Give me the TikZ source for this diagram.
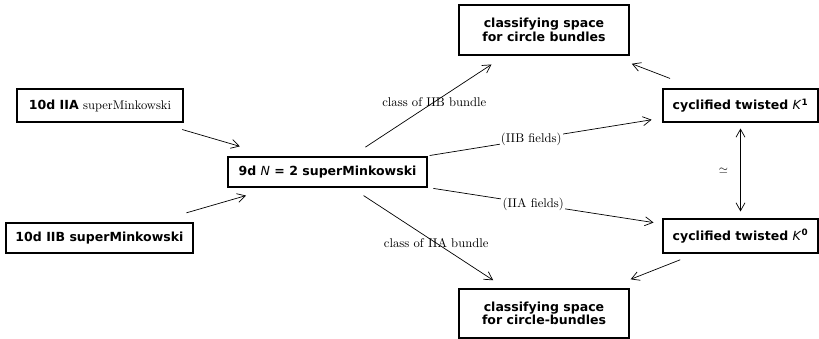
\documentclass[tikz,border=0pt]{standalone}
\usepackage{fontspec}
\setsansfont{DejaVu Sans}
\usetikzlibrary{arrows.meta}
\tikzset{
  >={Straight Barb[length=2.4mm,width=2.7mm]},
  space/.style={draw, line width=0.9pt, inner sep=0pt, align=center,
    font=\fontsize{10.7}{11.4}\selectfont\sffamily\bfseries},
  map/.style={->, line width=0.6pt},
  lbl/.style={font=\fontsize{10.8}{13}\selectfont},
}

\begin{document}
\begin{tikzpicture}[x=0.3mm, y=-0.3mm]
  \useasboundingbox (0,0) rectangle (819,339);

  % the spaces
  \node[space, minimum width=49.8mm, minimum height=9.9mm] (iia) at (100,105.5) {10d IIA \textnormal{superMinkowski}};
  \node[space, minimum width=56.1mm, minimum height=9mm] (iib) at (99.5,238) {10d IIB superMinkowski};
  \node[space, minimum width=59.7mm, minimum height=9mm] (nine) at (327.5,172) {9d \textmd{\textit{N}} = 2 superMinkowski};
  \node[space, minimum width=46.5mm, minimum height=9.9mm] (kone) at (740.5,105.5) {cyclified twisted \textmd{\textit{K}}\textsuperscript{1}};
  \node[space, minimum width=46.5mm, minimum height=10.2mm] (kzero) at (740.5,236) {cyclified twisted \textmd{\textit{K}}\textsuperscript{0}};
  \node[space, minimum width=51mm, minimum height=15mm] (bundb) at (544,30) {classifying space\\for circle bundles};
  \node[space, minimum width=51mm, minimum height=14.7mm] (bunda) at (544,313.5) {classifying space\\for circle-bundles};

  % the maps
  \draw[map, shorten <=7.5mm, shorten >=10.8mm] (iia) -- (nine);
  \draw[map, shorten <=10.4mm, shorten >=8.7mm] (iib) -- (nine);
  \draw[map, shorten <=5.1mm, shorten >=4.9mm] (nine) -- node[lbl, pos=0.54] {class of IIB bundle} (bundb);
  \draw[map, shorten <=4.4mm, shorten >=4.5mm] (nine) -- node[lbl, pos=0.55] {class of IIA bundle} (bunda);
  \draw[map, shorten <=1.8mm, shorten >=3.3mm] (nine) -- node[lbl, pos=0.45, fill=white, inner sep=1pt] {(IIB fields)} (kone);
  \draw[map, shorten <=1.8mm, shorten >=2.7mm] (nine) -- node[lbl, pos=0.45, fill=white, inner sep=1pt] {(IIA fields)} (kzero);
  \draw[map, shorten <=8.4mm, shorten >=6.9mm] (kone) -- (bundb);
  \draw[map, shorten <=5.1mm, shorten >=7.5mm] (kzero) -- (bunda);
  \draw[map, <->, shorten <=1.8mm, shorten >=2.1mm] (kone) -- node[left=2.5mm] {$\simeq$} (kzero);
\end{tikzpicture}
\end{document}
